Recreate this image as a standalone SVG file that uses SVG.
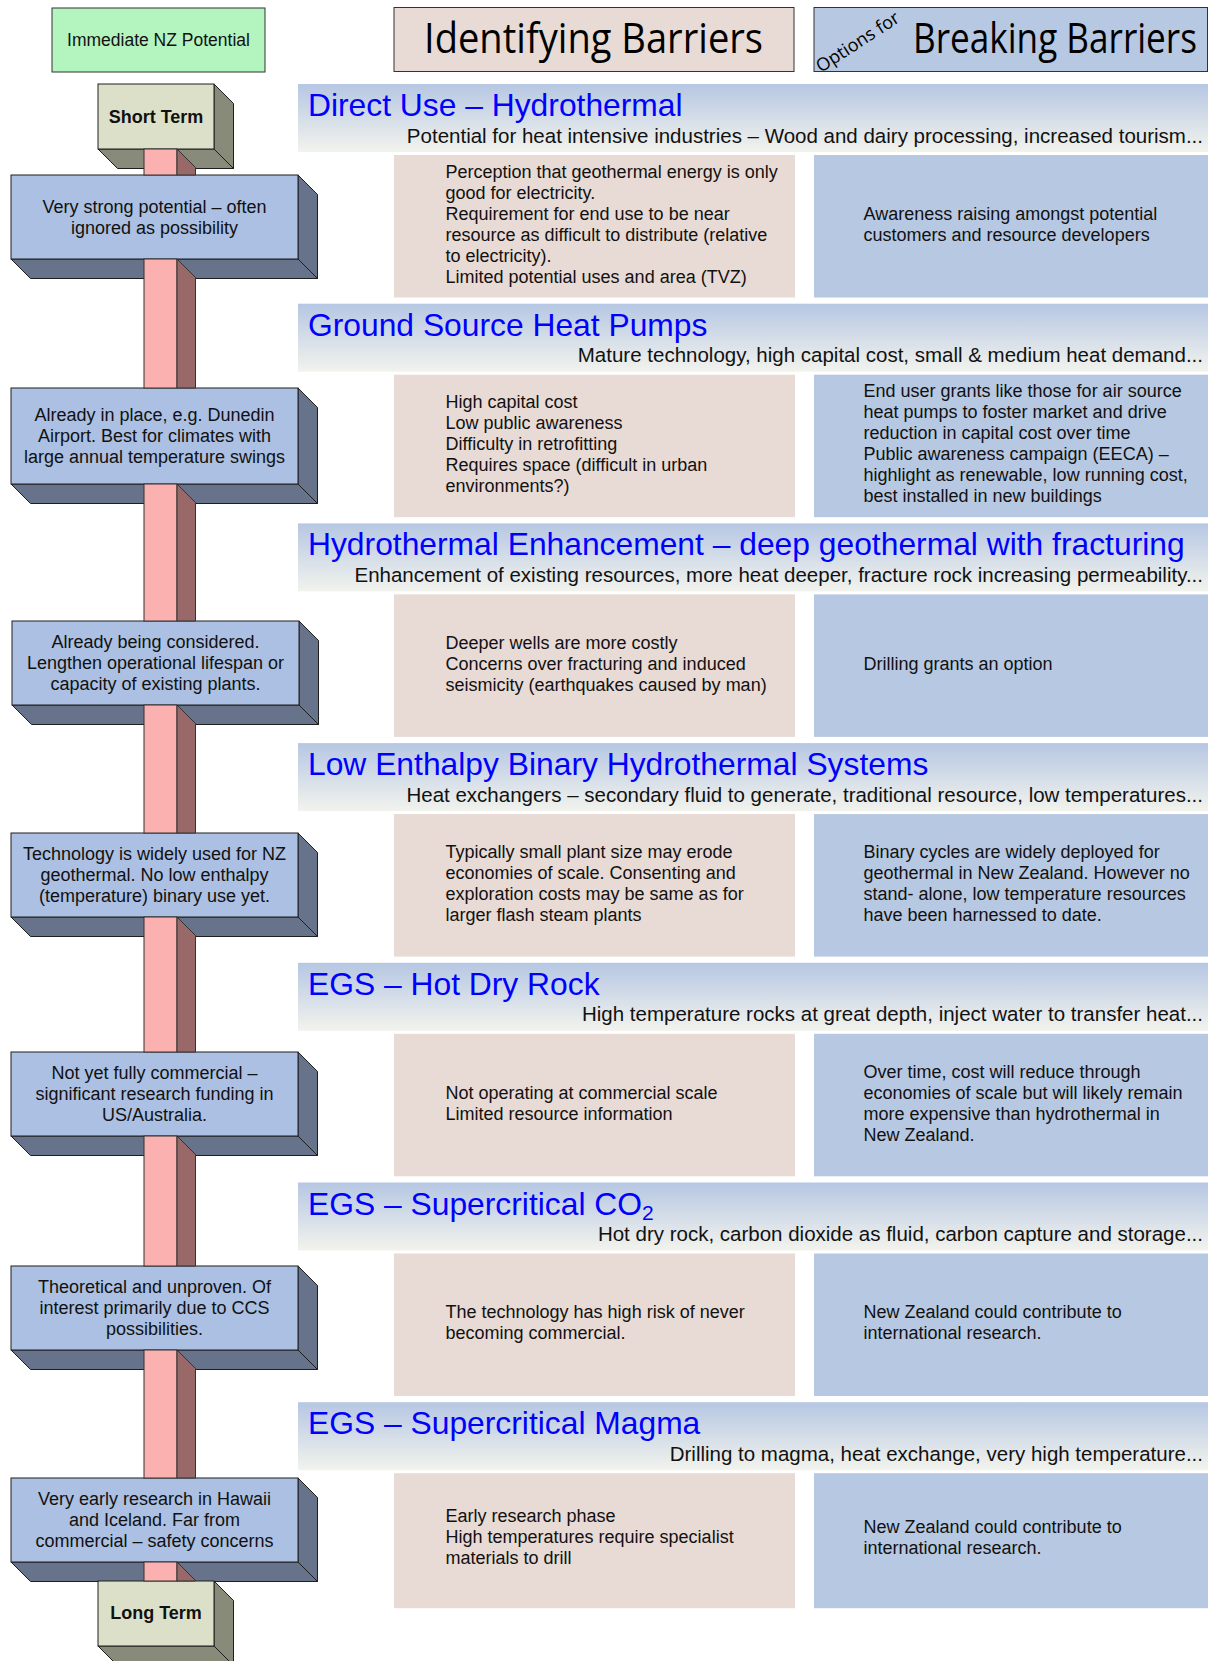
<svg xmlns="http://www.w3.org/2000/svg" width="1208" height="1661" viewBox="0 0 1208 1661">
<defs>
<linearGradient id="band" x1="0" y1="0" x2="0" y2="1">
<stop offset="0" stop-color="#b6c7e3"/>
<stop offset="1" stop-color="#f2f3ed"/>
</linearGradient>
</defs>
<style>
text{font-family:"Liberation Sans",Arial,sans-serif;fill:#111}
.hdr{font-family:"Open Sans","Noto Sans",sans-serif;font-size:42px;fill:#000}
.opt{font-family:"Open Sans","Noto Sans",sans-serif;font-size:18px;fill:#000}
.title{font-size:31.8px;fill:#0000ff}
.sub{font-size:20.5px;text-anchor:end;fill:#111}
.body{font-size:18px}
.side{font-size:18px;text-anchor:middle}
.term{font-size:18px;font-weight:bold;text-anchor:middle}
.band{fill:url(#band)}
.bar{fill:#e8dad4}
.opb{fill:#b7c8e2}
.face{fill:#abc0e2;stroke:#1e1e1e;stroke-width:1}
.dk{fill:#67738a;stroke:#1e1e1e;stroke-width:1}
.tface{fill:#dde0c9;stroke:#1e1e1e;stroke-width:1}
.tdk{fill:#888a7a;stroke:#1e1e1e;stroke-width:1}
.pole{fill:#fbb1b0;stroke:#333;stroke-width:1}
.poled{fill:#996868;stroke:#333;stroke-width:1}
</style>

<g id="legend-immediate">
<rect x="52" y="8" width="213" height="64" fill="#b4f4bf" stroke="#333" stroke-width="1"/>
<text x="158.5" y="46" class="side" style="font-size:17.5px">Immediate NZ Potential</text>
</g>
<g id="header-identifying">
<rect x="394" y="7.5" width="400" height="64" fill="#e8dad4" stroke="#333" stroke-width="1"/>
<text x="424" y="53" class="hdr" textLength="339" lengthAdjust="spacingAndGlyphs">Identifying Barriers</text>
</g>
<g id="header-breaking">
<rect x="814" y="7.5" width="393.5" height="64" fill="#b7c8e2" stroke="#333" stroke-width="1"/>
<text x="821" y="73" class="opt" transform="rotate(-33 821 73)">Options for</text>
<text x="0" y="0" class="hdr" transform="translate(913 53) scale(0.84 1)" textLength="338" lengthAdjust="spacingAndGlyphs">Breaking Barriers</text>
</g>

<!-- Sections -->
<g id="sec1">
<rect class="band" x="298" y="84" width="910" height="68"/>
<text class="title" x="308" y="116">Direct Use – Hydrothermal</text>
<text class="sub" x="1203" y="142.5">Potential for heat intensive industries – Wood and dairy processing, increased tourism...</text>
</g>
<g id="sec1-barrier">
<rect class="bar" x="394" y="155" width="401" height="142.5"/>
<text class="body" x="445.5" y="177.5"><tspan x="445.5">Perception that geothermal energy is only</tspan><tspan x="445.5" dy="21">good for electricity.</tspan><tspan x="445.5" dy="21">Requirement for end use to be near</tspan><tspan x="445.5" dy="21">resource as difficult to distribute (relative</tspan><tspan x="445.5" dy="21">to electricity).</tspan><tspan x="445.5" dy="21">Limited potential uses and area (TVZ)</tspan></text>
</g>
<g id="sec1-option">
<rect class="opb" x="814" y="155" width="394" height="142.5"/>
<text class="body" x="863.5" y="219.5"><tspan x="863.5">Awareness raising amongst potential</tspan><tspan x="863.5" dy="21">customers and resource developers</tspan></text>
</g>

<g id="sec2">
<rect class="band" x="298" y="303.7" width="910" height="68"/>
<text class="title" x="308" y="335.7">Ground Source Heat Pumps</text>
<text class="sub" x="1203" y="362.2">Mature technology, high capital cost, small &amp; medium heat demand...</text>
</g>
<g id="sec2-barrier">
<rect class="bar" x="394" y="374.7" width="401" height="142.5"/>
<text class="body" x="445.5" y="407.9"><tspan x="445.5">High capital cost</tspan><tspan x="445.5" dy="21">Low public awareness</tspan><tspan x="445.5" dy="21">Difficulty in retrofitting</tspan><tspan x="445.5" dy="21">Requires space (difficult in urban</tspan><tspan x="445.5" dy="21">environments?)</tspan></text>
</g>
<g id="sec2-option">
<rect class="opb" x="814" y="374.7" width="394" height="142.5"/>
<text class="body" x="863.5" y="397.4"><tspan x="863.5">End user grants like those for air source</tspan><tspan x="863.5" dy="21">heat pumps to foster market and drive</tspan><tspan x="863.5" dy="21">reduction in capital cost over time</tspan><tspan x="863.5" dy="21">Public awareness campaign (EECA) –</tspan><tspan x="863.5" dy="21">highlight as renewable, low running cost,</tspan><tspan x="863.5" dy="21">best installed in new buildings</tspan></text>
</g>

<g id="sec3">
<rect class="band" x="298" y="523.4" width="910" height="68"/>
<text class="title" x="308" y="555.4">Hydrothermal Enhancement – deep geothermal with fracturing</text>
<text class="sub" x="1203" y="581.9">Enhancement of existing resources, more heat deeper, fracture rock increasing permeability...</text>
</g>
<g id="sec3-barrier">
<rect class="bar" x="394" y="594.4" width="401" height="142.5"/>
<text class="body" x="445.5" y="648.6"><tspan x="445.5">Deeper wells are more costly</tspan><tspan x="445.5" dy="21">Concerns over fracturing and induced</tspan><tspan x="445.5" dy="21">seismicity (earthquakes caused by man)</tspan></text>
</g>
<g id="sec3-option">
<rect class="opb" x="814" y="594.4" width="394" height="142.5"/>
<text class="body" x="863.5" y="669.6">Drilling grants an option</text>
</g>

<g id="sec4">
<rect class="band" x="298" y="743.1" width="910" height="68"/>
<text class="title" x="308" y="775.1">Low Enthalpy Binary Hydrothermal Systems</text>
<text class="sub" x="1203" y="801.6">Heat exchangers – secondary fluid to generate, traditional resource, low temperatures...</text>
</g>
<g id="sec4-barrier">
<rect class="bar" x="394" y="814.1" width="401" height="142.5"/>
<text class="body" x="445.5" y="857.9"><tspan x="445.5">Typically small plant size may erode</tspan><tspan x="445.5" dy="21">economies of scale. Consenting and</tspan><tspan x="445.5" dy="21">exploration costs may be same as for</tspan><tspan x="445.5" dy="21">larger flash steam plants</tspan></text>
</g>
<g id="sec4-option">
<rect class="opb" x="814" y="814.1" width="394" height="142.5"/>
<text class="body" x="863.5" y="857.9"><tspan x="863.5">Binary cycles are widely deployed for</tspan><tspan x="863.5" dy="21">geothermal in New Zealand. However no</tspan><tspan x="863.5" dy="21">stand- alone, low temperature resources</tspan><tspan x="863.5" dy="21">have been harnessed to date.</tspan></text>
</g>

<g id="sec5">
<rect class="band" x="298" y="962.8" width="910" height="68"/>
<text class="title" x="308" y="994.8">EGS – Hot Dry Rock</text>
<text class="sub" x="1203" y="1021.3">High temperature rocks at great depth, inject water to transfer heat...</text>
</g>
<g id="sec5-barrier">
<rect class="bar" x="394" y="1033.8" width="401" height="142.5"/>
<text class="body" x="445.5" y="1098.5"><tspan x="445.5">Not operating at commercial scale</tspan><tspan x="445.5" dy="21">Limited resource information</tspan></text>
</g>
<g id="sec5-option">
<rect class="opb" x="814" y="1033.8" width="394" height="142.5"/>
<text class="body" x="863.5" y="1077.5"><tspan x="863.5">Over time, cost will reduce through</tspan><tspan x="863.5" dy="21">economies of scale but will likely remain</tspan><tspan x="863.5" dy="21">more expensive than hydrothermal in</tspan><tspan x="863.5" dy="21">New Zealand.</tspan></text>
</g>

<g id="sec6">
<rect class="band" x="298" y="1182.5" width="910" height="68"/>
<text class="title" x="308" y="1214.5">EGS – Supercritical CO<tspan font-size="21" dy="5">2</tspan></text>
<text class="sub" x="1203" y="1241">Hot dry rock, carbon dioxide as fluid, carbon capture and storage...</text>
</g>
<g id="sec6-barrier">
<rect class="bar" x="394" y="1253.5" width="401" height="142.5"/>
<text class="body" x="445.5" y="1318.2"><tspan x="445.5">The technology has high risk of never</tspan><tspan x="445.5" dy="21">becoming commercial.</tspan></text>
</g>
<g id="sec6-option">
<rect class="opb" x="814" y="1253.5" width="394" height="142.5"/>
<text class="body" x="863.5" y="1318.2"><tspan x="863.5">New Zealand could contribute to</tspan><tspan x="863.5" dy="21">international research.</tspan></text>
</g>

<g id="sec7">
<rect class="band" x="298" y="1402.2" width="910" height="68"/>
<text class="title" x="308" y="1434.2">EGS – Supercritical Magma</text>
<text class="sub" x="1203" y="1460.7">Drilling to magma, heat exchange, very high temperature...</text>
</g>
<g id="sec7-barrier">
<rect class="bar" x="394" y="1473.2" width="401" height="135"/>
<text class="body" x="445.5" y="1522.2"><tspan x="445.5">Early research phase</tspan><tspan x="445.5" dy="21">High temperatures require specialist</tspan><tspan x="445.5" dy="21">materials to drill</tspan></text>
</g>
<g id="sec7-option">
<rect class="opb" x="814" y="1473.2" width="394" height="135"/>
<text class="body" x="863.5" y="1532.7"><tspan x="863.5">New Zealand could contribute to</tspan><tspan x="863.5" dy="21">international research.</tspan></text>
</g>

<!-- Timeline nodes -->
<g id="short-term">
<polygon class="tdk" points="214,84 233.5,103.5 233.5,168.5 214,149"/>
<polygon class="tdk" points="98,149 214,149 233.5,168.5 117.5,168.5"/>
<rect class="tface" x="98" y="84" width="116" height="65"/>
<text class="term" x="156" y="122.5">Short Term</text>
</g>
<g id="side1">
<polygon class="dk" points="298,175 317.5,194.5 317.5,278.5 298,259"/>
<polygon class="dk" points="11,259 298,259 317.5,278.5 30.5,278.5"/>
<rect class="face" x="11" y="175" width="287" height="84"/>
<text class="side" x="154.5" y="212.5"><tspan x="154.5">Very strong potential – often</tspan><tspan x="154.5" dy="21">ignored as possibility</tspan></text>
</g>
<g id="side2">
<polygon class="dk" points="298,388 317.5,407.5 317.5,503.5 298,484"/>
<polygon class="dk" points="11,484 298,484 317.5,503.5 30.5,503.5"/>
<rect class="face" x="11" y="388" width="287" height="96"/>
<text class="side" x="154.5" y="421"><tspan x="154.5">Already in place, e.g. Dunedin</tspan><tspan x="154.5" dy="21">Airport. Best for climates with</tspan><tspan x="154.5" dy="21">large annual temperature swings</tspan></text>
</g>
<g id="side3">
<polygon class="dk" points="299,621 318.5,640.5 318.5,724.5 299,705"/>
<polygon class="dk" points="12,705 299,705 318.5,724.5 31.5,724.5"/>
<rect class="face" x="12" y="621" width="287" height="84"/>
<text class="side" x="155.5" y="648"><tspan x="155.5">Already being considered.</tspan><tspan x="155.5" dy="21">Lengthen operational lifespan or</tspan><tspan x="155.5" dy="21">capacity of existing plants.</tspan></text>
</g>
<g id="side4">
<polygon class="dk" points="298,833 317.5,852.5 317.5,936.5 298,917"/>
<polygon class="dk" points="11,917 298,917 317.5,936.5 30.5,936.5"/>
<rect class="face" x="11" y="833" width="287" height="84"/>
<text class="side" x="154.5" y="860"><tspan x="154.5">Technology is widely used for NZ</tspan><tspan x="154.5" dy="21">geothermal. No low enthalpy</tspan><tspan x="154.5" dy="21">(temperature) binary use yet.</tspan></text>
</g>
<g id="side5">
<polygon class="dk" points="298,1052 317.5,1071.5 317.5,1155.5 298,1136"/>
<polygon class="dk" points="11,1136 298,1136 317.5,1155.5 30.5,1155.5"/>
<rect class="face" x="11" y="1052" width="287" height="84"/>
<text class="side" x="154.5" y="1079"><tspan x="154.5">Not yet fully commercial –</tspan><tspan x="154.5" dy="21">significant research funding in</tspan><tspan x="154.5" dy="21">US/Australia.</tspan></text>
</g>
<g id="side6">
<polygon class="dk" points="298,1266 317.5,1285.5 317.5,1369.5 298,1350"/>
<polygon class="dk" points="11,1350 298,1350 317.5,1369.5 30.5,1369.5"/>
<rect class="face" x="11" y="1266" width="287" height="84"/>
<text class="side" x="154.5" y="1293"><tspan x="154.5">Theoretical and unproven. Of</tspan><tspan x="154.5" dy="21">interest primarily due to CCS</tspan><tspan x="154.5" dy="21">possibilities.</tspan></text>
</g>
<g id="side7">
<polygon class="dk" points="298,1478 317.5,1497.5 317.5,1581.5 298,1562"/>
<polygon class="dk" points="11,1562 298,1562 317.5,1581.5 30.5,1581.5"/>
<rect class="face" x="11" y="1478" width="287" height="84"/>
<text class="side" x="154.5" y="1505"><tspan x="154.5">Very early research in Hawaii</tspan><tspan x="154.5" dy="21">and Iceland. Far from</tspan><tspan x="154.5" dy="21">commercial – safety concerns</tspan></text>
</g>
<g id="long-term">
<polygon class="tdk" points="214,1581 233.5,1600.5 233.5,1665.5 214,1646"/>
<polygon class="tdk" points="98,1646 214,1646 233.5,1665.5 117.5,1665.5"/>
<rect class="tface" x="98" y="1581" width="116" height="65"/>
<text class="term" x="156" y="1619">Long Term</text>
</g>

<!-- Connectors: the timeline pole -->
<g id="connectors">
<rect class="pole" x="144" y="149" width="33" height="26"/>
<polygon class="poled" points="177,149 195.5,167.5 195.5,175 177,175"/>
<rect class="pole" x="144" y="259" width="33" height="129"/>
<polygon class="poled" points="177,259 195.5,277.5 195.5,388 177,388"/>
<rect class="pole" x="144" y="484" width="33" height="137"/>
<polygon class="poled" points="177,484 195.5,502.5 195.5,621 177,621"/>
<rect class="pole" x="144" y="705" width="33" height="128"/>
<polygon class="poled" points="177,705 195.5,723.5 195.5,833 177,833"/>
<rect class="pole" x="144" y="917" width="33" height="135"/>
<polygon class="poled" points="177,917 195.5,935.5 195.5,1052 177,1052"/>
<rect class="pole" x="144" y="1136" width="33" height="130"/>
<polygon class="poled" points="177,1136 195.5,1154.5 195.5,1266 177,1266"/>
<rect class="pole" x="144" y="1350" width="33" height="128"/>
<polygon class="poled" points="177,1350 195.5,1368.5 195.5,1478 177,1478"/>
<rect class="pole" x="144" y="1562" width="33" height="19"/>
<polygon class="poled" points="177,1562 195.5,1580.5 195.5,1581 177,1581"/>
</g>
</svg>
